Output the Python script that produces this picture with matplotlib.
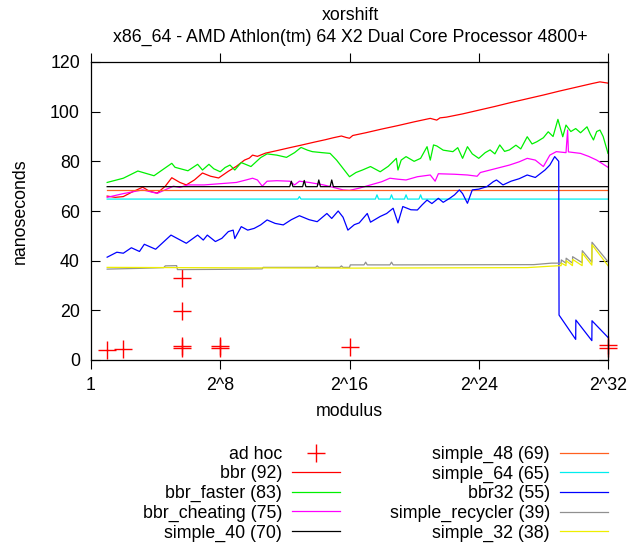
import matplotlib
matplotlib.use("Agg")
import matplotlib.pyplot as plt
import numpy as np

plt.rcParams["font.family"] = ["Liberation Sans", "DejaVu Sans"]
plt.rcParams["font.size"] = 12.8

# log2(modulus) / nanoseconds
adhoc_mod = [2, 4, 50, 50, 50, 50, 250, 250, 65536, 2**32, 2**32]
adhoc_ns = [4.0, 4.3, 33.0, 19.7, 5.0, 5.8, 5.0, 5.8, 5.1, 5.0, 6.0]

bbr_l = [1.0, 1.5, 2.0, 2.5, 3.2, 3.6, 4.1, 4.6, 5.0, 5.5, 5.9, 6.4, 6.9, 7.4, 7.9,
         8.5, 9.0, 9.5, 9.8, 10.0, 10.3, 10.8, 11.5, 12.3, 13.0, 13.8, 14.5, 15.0,
         15.5, 15.8, 16.0, 16.2, 17, 18, 19, 20, 21, 21.4, 21.6, 22, 23, 24, 25, 26,
         27, 28, 29, 30, 31, 31.5, 32]
bbr_ns = [66.0, 65.5, 65.8, 67.5, 69.6, 68.0, 67.2, 70.0, 73.4, 71.5, 70.5, 72.5, 75.3,
          74.0, 73.3, 76.0, 78.0, 80.5, 81.3, 82.5, 82.0, 83.3, 84.3, 85.5, 86.5, 87.7,
          88.7, 89.5, 90.2, 89.6, 89.3, 90.4, 91.5, 93.0, 94.4, 95.9, 97.3, 96.6, 97.5,
          97.8, 99.1, 100.6, 102.1, 103.7, 105.2, 106.7, 108.3, 109.8, 111.3, 112.0, 111.5]

faster_l = [1.0, 2.0, 2.9, 3.9, 5.0, 5.2, 6.0, 6.6, 6.9, 7.3, 7.6, 8.0, 8.3, 8.6, 8.9,
            9.3, 9.9, 10.5, 10.9, 11.5, 12.1, 12.6, 13.0, 13.4, 13.7, 14.3, 14.8, 15.2,
            15.5, 16.0, 16.4, 16.8, 17.3, 17.9, 18.4, 18.9, 19.0, 19.2, 19.5, 20.0, 20.4,
            20.8, 21.0, 21.2, 21.4, 21.8, 22.4, 22.7, 23.0, 23.3, 23.6, 24.0, 24.4, 24.7,
            25.0, 25.3, 25.6, 25.9, 26.3, 26.6, 27.0, 27.3, 27.6, 28.0, 28.3, 28.6, 28.9,
            29.2, 29.4, 29.7, 30.0, 30.3, 30.7, 30.9, 31.1, 31.3, 31.5, 31.7, 32.0]
faster_ns = [71.5, 73.2, 76.1, 74.2, 79.2, 77.6, 76.2, 78.8, 76.5, 78.8, 77.0, 75.8, 77.5,
             78.5, 76.5, 79.5, 77.9, 81.5, 83.0, 82.5, 81.6, 83.5, 85.6, 84.5, 83.9, 83.5,
             83.2, 80.5, 78.0, 73.8, 75.5, 76.5, 77.9, 75.8, 78.0, 81.2, 76.5, 80.5, 81.9,
             80.0, 81.2, 85.9, 80.5, 86.6, 86.2, 84.5, 83.9, 85.5, 81.2, 85.9, 83.0, 81.2,
             83.5, 84.6, 83.0, 86.6, 84.0, 84.6, 86.5, 85.0, 89.9, 87.0, 87.9, 89.5, 91.9,
             90.0, 96.9, 89.9, 94.6, 92.0, 93.2, 91.5, 93.9, 91.0, 88.6, 92.0, 92.6, 90.0,
             83.2]

cheat_l = [1.0, 2.0, 3.2, 4.1, 5.1, 5.5, 6.0, 7.0, 8.0, 9.0, 9.6, 10.0, 10.3, 10.6, 10.9,
           11.5, 12.3, 12.6, 12.9, 13.5, 14.4, 15.0, 15.6, 16.0, 16.6, 17.3, 18.0, 18.5,
           19.0, 19.5, 20.2, 21.0, 21.3, 21.5, 22.5, 23.3, 23.9, 24.1, 25.0, 25.9, 26.5,
           27.0, 27.5, 28.0, 28.4, 28.8, 29.4, 29.5, 29.55, 30.3, 30.8, 31.3, 32.0]
cheat_ns = [65.5, 67.0, 68.5, 67.1, 70.0, 69.5, 70.5, 70.5, 71.0, 71.5, 72.5, 73.2, 72.5,
            70.0, 72.0, 72.2, 72.0, 70.5, 72.0, 71.5, 70.5, 69.5, 68.5, 68.3, 69.2, 70.5,
            71.8, 73.2, 72.8, 72.5, 73.8, 74.5, 72.0, 75.0, 74.8, 74.5, 74.0, 75.5, 77.0,
            78.5, 79.8, 81.2, 80.5, 77.9, 82.5, 83.9, 83.5, 92.6, 83.8, 83.2, 82.0, 80.5,
            77.6]

s40_l = [1, 12.3, 12.4, 12.5, 13.1, 13.2, 13.3, 14.0, 14.1, 14.2, 14.8, 14.9, 15.0, 32]
s40_ns = [69.8, 69.8, 72.0, 69.8, 69.8, 72.3, 69.8, 69.8, 72.5, 69.8, 69.8, 72.5, 69.8, 69.8]

s48_l = [1, 32]
s48_ns = [68.6, 68.6]

s64_l = [1, 12.8, 12.9, 13.0, 17.6, 17.7, 17.8, 18.5, 18.6, 18.7, 19.4, 19.5, 19.6,
         20.3, 20.4, 20.5, 32]
s64_ns = [64.8, 64.8, 65.8, 64.8, 64.8, 66.5, 64.8, 64.8, 66.5, 64.8, 64.8, 66.5, 64.8,
          64.8, 66.5, 64.8, 64.8]

b32_l = [1.0, 1.6, 2.0, 2.5, 3.0, 3.3, 4.0, 4.95, 5.9, 6.6, 6.95, 7.2, 7.7, 8.1, 8.5, 8.8,
         8.9, 9.3, 9.7, 10.1, 10.5, 10.9, 11.4, 11.9, 12.4, 12.9, 13.5, 14.0, 14.6, 14.9,
         15.3, 15.6, 15.9, 16.3, 16.6, 17.1, 17.3, 17.9, 18.3, 18.7, 19.0, 19.3, 19.8,
         20.2, 20.5, 20.8, 21.1, 21.5, 21.8, 22.2, 22.5, 22.8, 23.0, 23.3, 23.6, 24.0,
         24.5, 24.9, 25.1, 25.5, 26.0, 26.5, 27.0, 27.5, 28.1, 28.4, 28.7, 28.95, 28.97,
         30.0, 30.01, 31.0, 31.01, 32.0]
b32_ns = [41.4, 43.4, 43.0, 45.2, 43.7, 46.6, 44.6, 50.3, 47.0, 50.3, 48.3, 50.3, 47.7,
          49.0, 51.7, 52.3, 48.9, 53.7, 52.3, 53.0, 54.4, 56.4, 55.0, 54.4, 56.5, 58.1,
          56.5, 55.7, 59.0, 57.0, 60.0, 57.5, 52.3, 54.5, 55.2, 59.0, 55.5, 57.8, 59.0,
          61.1, 55.2, 61.8, 60.5, 60.4, 62.5, 64.4, 63.0, 65.1, 63.5, 65.1, 66.5, 68.5,
          67.0, 63.1, 68.5, 68.8, 69.8, 71.8, 72.5, 70.5, 72.0, 73.0, 74.5, 73.5, 76.5,
          78.5, 81.9, 80.0, 18.1, 8.3, 16.1, 7.8, 15.8, 9.1]

recyc_l = [1.0, 3.0, 4.5, 4.6, 5.3, 5.35, 8.0, 10.6, 10.65, 13.9, 14.0, 14.1, 15.4, 15.5,
           15.6, 16.0, 16.05, 16.9, 17.0, 17.1, 18.5, 18.6, 18.7, 27.4, 28.5, 29.1, 29.11,
           29.4, 29.41, 29.8, 29.81, 30.4, 30.41, 31.0, 31.01, 32.0]
recyc_ns = [36.6, 36.9, 37.2, 37.9, 38.0, 36.4, 36.5, 36.7, 37.3, 37.3, 37.9, 37.3, 37.3,
            37.9, 37.3, 37.3, 38.3, 38.3, 39.4, 38.3, 38.3, 39.4, 38.3, 38.4, 39.0, 39.0,
            40.3, 39.0, 41.0, 39.0, 41.6, 39.2, 44.0, 39.4, 47.4, 39.6]

s32_l = [1.0, 10.0, 16.0, 27.0, 28.5, 29.1, 29.11, 29.4, 29.41, 29.8, 29.81, 30.4, 30.41,
         31.0, 31.01, 32.0]
s32_ns = [37.3, 37.1, 37.0, 37.2, 37.8, 38.0, 39.0, 38.0, 40.0, 38.0, 40.5, 38.0, 43.0,
          38.2, 46.4, 38.0]

series = [
    ("bbr (92)", bbr_l, bbr_ns, "#ff0000"),
    ("bbr_faster (83)", faster_l, faster_ns, "#00f000"),
    ("bbr_cheating (75)", cheat_l, cheat_ns, "#ff00ff"),
    ("simple_40 (70)", s40_l, s40_ns, "#000000"),
    ("simple_48 (69)", s48_l, s48_ns, "#ff6020"),
    ("simple_64 (65)", s64_l, s64_ns, "#00eeee"),
    ("bbr32 (55)", b32_l, b32_ns, "#0000ff"),
    ("simple_recycler (39)", recyc_l, recyc_ns, "#909090"),
    ("simple_32 (38)", s32_l, s32_ns, "#eeee00"),
]

fig = plt.figure(figsize=(6.44, 5.48), dpi=100)
ax = fig.add_axes([91 / 644, 1 - 360 / 548, 517 / 644, 298 / 548])

ax.plot(adhoc_mod, adhoc_ns, "+", color="red", markersize=13, markeredgewidth=1.0,
        label="ad hoc", clip_on=False)
for label, lg, ns, col in series:
    ax.plot(2.0 ** np.array(lg), ns, "-", color=col, lw=0.9, label=label)

ax.set_xscale("log", base=2)
ax.set_xlim(1, 2**32)
ax.set_ylim(0, 120)
ax.set_xticks([1, 2**8, 2**16, 2**24, 2**32], ["1", "2^8", "2^16", "2^24", "2^32"])
ax.xaxis.set_minor_locator(matplotlib.ticker.NullLocator())
ax.set_yticks(range(0, 121, 20))
ax.tick_params(axis="x", which="both", direction="out", top=True, length=6.5, pad=5.5)
ax.tick_params(axis="y", direction="in", right=True, length=6.5, pad=8)
for s in ax.spines.values():
    s.set_linewidth(0.9)

fig.text(350 / 644, 1 - 15 / 548, "xorshift", ha="center", va="center")
fig.text(350 / 644, 1 - 37 / 548,
         "x86_64 - AMD Athlon(tm) 64 X2 Dual Core Processor 4800+",
         ha="center", va="center")
fig.text(20 / 644, 1 - 211 / 548, "nanoseconds", rotation=90, ha="center", va="center")
fig.text(349 / 644, 1 - 411 / 548, "modulus", ha="center", va="center")

fig.legend(loc="upper right", bbox_to_anchor=(608 / 644, 1 - 446 / 548), ncol=2,
           markerfirst=False, frameon=False, borderpad=0, handlelength=2.7,
           handletextpad=0.56, columnspacing=2.8, labelspacing=0.14, borderaxespad=0)

fig.savefig("out.png", dpi=100)
